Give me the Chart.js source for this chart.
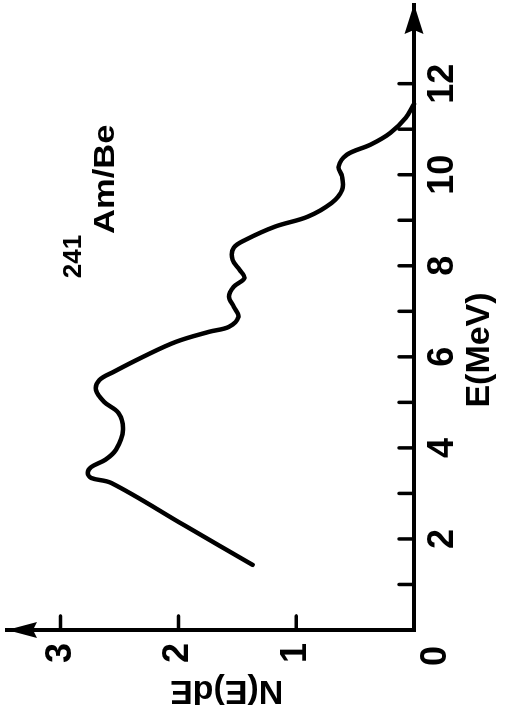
<!DOCTYPE html>
<html><head><meta charset="utf-8">
<script src="https://cdn.jsdelivr.net/npm/chart.js@4"></script>
<style>
html,body{margin:0;padding:0;background:#fff;overflow:hidden;width:509px;height:717px;}
#wrap{position:absolute;left:0;top:0;width:717px;height:509px;transform-origin:0 0;transform:translate(0,717px) rotate(-90deg);}
</style></head><body>
<div id="wrap"><canvas id="c" width="717" height="509"></canvas></div>
<script>
// Neutron energy spectrum of a 241Am/Be source
const energy = [1.43, 2.3, 3.23, 3.34, 3.45, 3.58, 3.74, 3.96, 4.40, 4.77, 5.01, 5.27, 5.49, 5.67, 6.0, 6.33, 6.55, 6.66, 6.88, 7.10, 7.32, 7.54, 7.73, 7.91, 8.13, 8.40, 8.57, 8.86, 9.08, 9.38, 9.67, 9.96, 10.18, 10.44, 10.66, 10.92, 11.25, 11.55];
const yieldN = [1.37, 1.95, 2.57, 2.74, 2.77, 2.74, 2.62, 2.53, 2.47, 2.51, 2.63, 2.70, 2.67, 2.55, 2.30, 2.02, 1.74, 1.57, 1.49, 1.53, 1.57, 1.53, 1.44, 1.48, 1.54, 1.53, 1.43, 1.18, 0.90, 0.70, 0.61, 0.61, 0.64, 0.57, 0.37, 0.20, 0.07, 0.0];
const energyTickLabels = ['2', '4', '6', '8', '10', '12'];
const yieldTickLabels = ['1', '2', '3'];
const originLabel = '0';
const xTitle = 'E(MeV)';
const yTitle = 'N(E)dE';
const sourceMass = '241';
const sourceName = 'Am/Be';

const FAM = '"Liberation Sans", Arial, sans-serif';

const extras = {
  id: 'extras',
  afterDraw(chart) {
    const {ctx, scales: {x, y}} = chart;
    const x0 = x.getPixelForValue(0), y0 = y.getPixelForValue(0);
    ctx.save();
    ctx.strokeStyle = '#000'; ctx.fillStyle = '#000';
    ctx.lineWidth = 3.5; ctx.lineCap = 'round';
    x.ticks.forEach(t => {
      if (t.value > 0 && t.value <= 12) {
        const px = x.getPixelForValue(t.value);
        ctx.beginPath(); ctx.moveTo(px, y0); ctx.lineTo(px, y0 - 15); ctx.stroke();
      }
    });
    y.ticks.forEach(t => {
      if (t.value > 0 && t.value <= 3) {
        const py = y.getPixelForValue(t.value);
        ctx.beginPath(); ctx.moveTo(x0, py); ctx.lineTo(x0 + 14, py); ctx.stroke();
      }
    });
    // arrow heads
    const xr = x.right, yt = y.top;
    ctx.beginPath(); ctx.moveTo(xr, y0); ctx.lineTo(xr - 30, y0 - 9.5); ctx.lineTo(xr - 26, y0); ctx.lineTo(xr - 30, y0 + 9.5); ctx.closePath(); ctx.fill();
    ctx.beginPath(); ctx.moveTo(x0, yt); ctx.lineTo(x0 - 8, yt + 30); ctx.lineTo(x0, yt + 26); ctx.lineTo(x0 + 8, yt + 30); ctx.closePath(); ctx.fill();
    // origin label
    ctx.font = 'bold 36px ' + FAM; ctx.textAlign = 'center'; ctx.textBaseline = 'middle';
    ctx.fillText(originLabel, x0 - 26, y0 + 22);
    // axis titles
    ctx.font = 'bold 34px ' + FAM;
    ctx.fillText(xTitle, x.getPixelForValue(6.15), y0 + 66);
    ctx.save();
    ctx.translate(x0 - 60, y.getPixelForValue(1.59));
    ctx.rotate(-Math.PI / 2);
    ctx.fillText(yTitle, 0, 0);
    ctx.restore();
    // source annotation
    ctx.textAlign = 'left'; ctx.textBaseline = 'alphabetic';
    ctx.save();
    ctx.translate(x.getPixelForValue(8.7), y.getPixelForValue(2.55));
    ctx.scale(1.15, 1);
    ctx.font = 'bold 30px ' + FAM;
    ctx.fillText(sourceName, 0, 0);
    ctx.restore();
    ctx.font = 'bold 26px ' + FAM;
    ctx.textAlign = 'right';
    ctx.fillText(sourceMass, x.getPixelForValue(8.7) - 1, y.getPixelForValue(2.83));
    ctx.restore();
  }
};

new Chart(document.getElementById('c'), {
  type: 'line',
  data: {
    datasets: [{
      data: energy.map((e, i) => ({x: e, y: yieldN[i]})),
      borderColor: '#000',
      borderWidth: 4.5,
      pointRadius: 0,
      tension: 0.35,
      fill: false,
      clip: false,
      borderCapStyle: 'round',
      borderJoinStyle: 'round'
    }]
  },
  options: {
    responsive: false,
    animation: false,
    devicePixelRatio: 1,
    layout: {padding: {left: 0, top: 7, right: 4, bottom: 0}},
    plugins: {legend: {display: false}, tooltip: {enabled: false}},
    scales: {
      x: {
        type: 'linear', min: 0, max: 13.75,
        grid: {display: true, drawOnChartArea: false, drawTicks: false},
        border: {display: true, width: 4, color: '#000'},
        ticks: {
          stepSize: 1, includeBounds: false, autoSkip: false, maxRotation: 0,
          color: '#000', font: {family: FAM, size: 36, weight: 'bold'},
          padding: 7,
          callback: v => energyTickLabels.includes(String(v)) ? String(v) : ''
        },
        afterFit: s => { s.height = 95; s.paddingLeft = 0; s.paddingRight = 0; }
      },
      y: {
        type: 'linear', min: 0, max: 3.455,
        grid: {display: true, drawOnChartArea: false, drawTicks: false},
        border: {display: true, width: 4, color: '#000'},
        ticks: {
          stepSize: 1, includeBounds: false, autoSkip: false,
          color: '#000', font: {family: FAM, size: 36, weight: 'bold'},
          padding: 13,
          callback: v => yieldTickLabels.includes(String(v)) ? String(v) : ''
        },
        afterFit: s => { s.width = 87; s.paddingTop = 0; s.paddingBottom = 0; }
      }
    }
  },
  plugins: [extras]
});
</script>
</body></html>
